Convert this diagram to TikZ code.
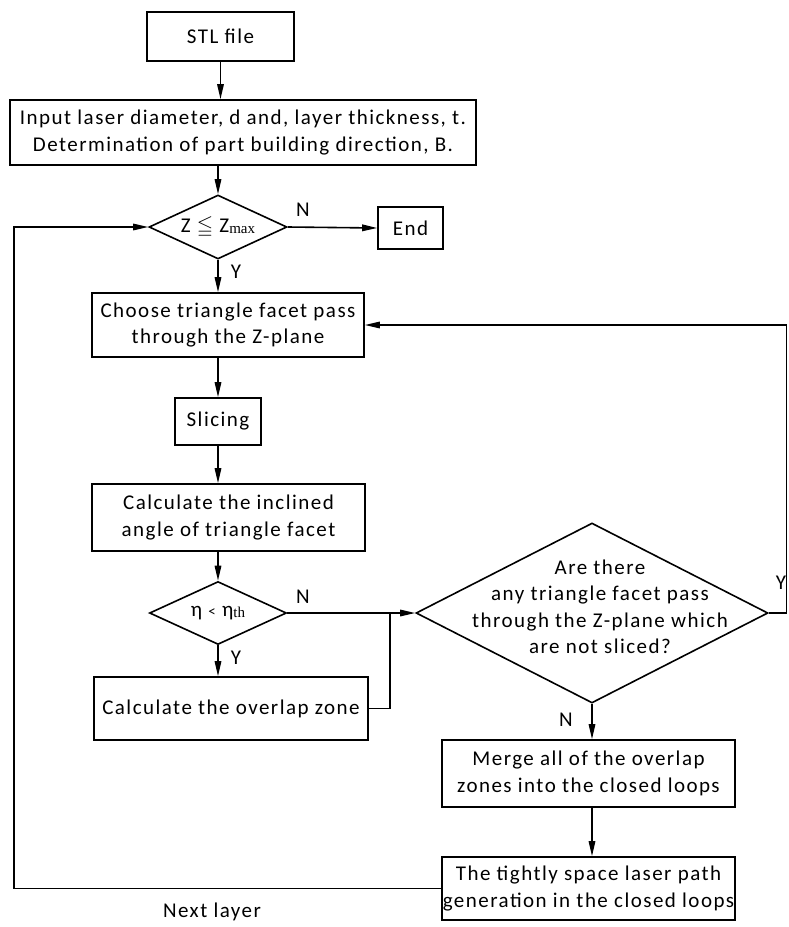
\documentclass[tikz,border=0pt]{standalone}
\usepackage{amssymb}
\usepackage{fontspec}
\setmainfont[LetterSpace=7]{Carlito}
\newfontfamily\serifsub{Liberation Serif}
\usetikzlibrary{shapes.geometric,arrows.meta}
\begin{document}
\begin{tikzpicture}[x=1pt,y=-1pt,
  every node/.style={font=\fontsize{21}{26.5}\selectfont},
  box/.style={draw,line width=1.6pt,rectangle,inner sep=0pt,align=center},
  dia/.style={draw,line width=1.6pt,diamond,inner sep=0pt},
  conn/.style={line width=1.6pt},
  arr/.style={conn,-{Triangle[length=15pt,width=6.5pt]}},
  lbl/.style={inner sep=0pt,align=center}]
\useasboundingbox (0,0) rectangle (788,927);

% boxes
\node[box,minimum width=147pt,minimum height=49pt] (stl) at (220.5,36.5) {STL file};
\node[box,minimum width=466pt,minimum height=65pt] (inp) at (243,132.5)
  {Input laser diameter, d and, layer thickness, t.\\Determination of part building direction, B.};
\node[dia,minimum width=138pt,minimum height=64pt] (d1) at (218,227) {};
\node[lbl] (d1t) at (d1) {Z {\fontsize{21}{21}\selectfont$\leqq$} Z\raisebox{-1.5pt}{\serifsub\fontsize{15}{15}\selectfont max}};
\node[box,minimum width=65pt,minimum height=42pt] (end) at (410.5,228) {End};
\node[box,minimum width=272pt,minimum height=64pt] (choose) at (228,325)
  {Choose triangle facet pass\\through the Z-plane};
\node[box,minimum width=86pt,minimum height=47pt] (slice) at (218,421.5) {Slicing};
\node[box,minimum width=273pt,minimum height=67pt] (calc1) at (228.5,517.5)
  {Calculate the inclined\\angle of triangle facet};
\node[dia,minimum width=137pt,minimum height=63pt] (d2) at (218,613) {};
\node[lbl] (d2t) at (d2) {η {\fontsize{15}{15}\selectfont<} η\raisebox{-1.5pt}{\serifsub\fontsize{15}{15}\selectfont th}};
\node[box,minimum width=274pt,minimum height=63pt] (calc2) at (231,708.5)
  {Calculate the overlap zone};
\node[dia,minimum width=352pt,minimum height=180pt] (d3) at (592,613) {};
\node[lbl] (d3t) at (600,607) {Are there\\any triangle facet pass\\through the Z-plane which\\are not sliced?};
\node[box,minimum width=293pt,minimum height=67pt] (merge) at (588.5,773.5)
  {Merge all of the overlap\\zones into the closed loops};
\node[box,minimum width=293pt,minimum height=63pt] (tight) at (588.5,888.5)
  {The tightly space laser path\\generation in the closed loops};

% helper coordinates
\coordinate (j) at (390,613);
\coordinate (r) at (786.5,613);
\coordinate (l) at (14,888.5);

% connectors
\draw[arr] (stl.south) -- (stl.south |- inp.north);
\draw[arr] (d1.north |- inp.south) -- (d1.north);
\draw[arr] (d1.south) -- (d1.south |- choose.north);
\draw[arr] (d1.east) -- (end.west);
\draw[arr] (slice.north |- choose.south) -- (slice.north);
\draw[arr] (slice.south) -- (slice.south |- calc1.north);
\draw[arr] (d2.north |- calc1.south) -- (d2.north);
\draw[arr] (d2.south) -- (d2.south |- calc2.north);
\draw[arr] (d2.east) -- (d3.west);
\draw[conn] (calc2.east) -| (j);
\draw[arr] (d3.south) -- (d3.south |- merge.north);
\draw[arr] (merge.south -| d3.south) -- (tight.north -| d3.south);
\draw[arr] (d3.east) -- (r) |- (choose.east);
\draw[arr] (tight.west) -- (l) |- (d1.west);

% labels
\node[lbl] (n1) at (303,210) {N};
\node[lbl] (y1) at (236,272) {Y};
\node[lbl] (n2) at (303,597) {N};
\node[lbl] (y2) at (236,658) {Y};
\node[lbl] (y3) at (781,583) {Y};
\node[lbl] (n3) at (566,720) {N};
\node[lbl] (nl) at (212,912) {Next layer};
\end{tikzpicture}
\end{document}
